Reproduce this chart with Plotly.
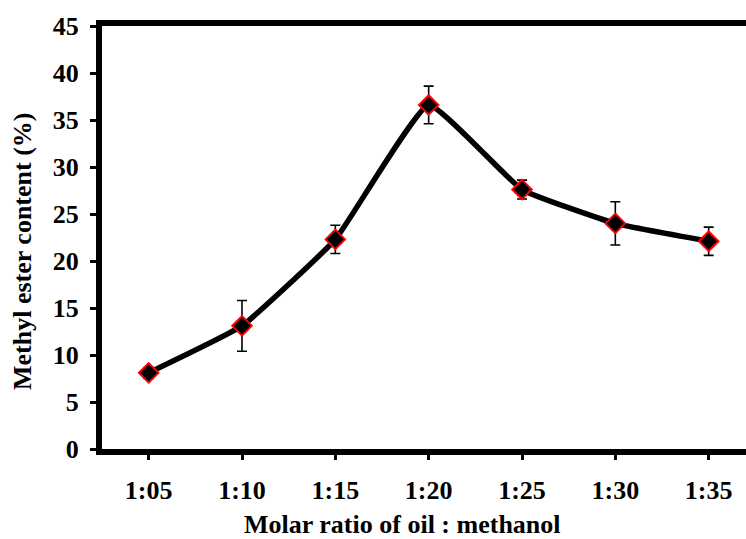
import plotly.graph_objects as go

# Molar ratio categories and measured methyl ester content
ratios = ["1:05", "1:10", "1:15", "1:20", "1:25", "1:30", "1:35"]
ester_content = [8.1, 13.1, 22.3, 36.6, 27.6, 24.0, 22.1]
ester_error = [0.6, 2.7, 1.5, 2.0, 1.0, 2.3, 1.5]
y_ticks = [0, 5, 10, 15, 20, 25, 30, 35, 40, 45]

FONT = "Liberation Serif"
FSIZE = 26

fig = go.Figure()
fig.add_trace(go.Scatter(
    x=list(range(len(ratios))),
    y=ester_content,
    mode="lines+markers",
    line=dict(color="black", width=5.5, shape="spline", smoothing=0.35),
    marker=dict(symbol="diamond", size=15, color="black",
                line=dict(color="#ff0000", width=2)),
    error_y=dict(type="data", array=ester_error, visible=True,
                 color="black", thickness=1.6, width=5),
    showlegend=False,
))

fig.update_layout(
    width=746, height=539,
    margin=dict(l=102, r=0, t=26, b=90),
    paper_bgcolor="white", plot_bgcolor="white",
    font=dict(family=FONT, size=FSIZE, color="black"),
    xaxis=dict(
        range=[-0.5, 6.4],
        tickmode="array",
        tickvals=list(range(len(ratios))),
        ticktext=["<b>%s</b>" % r for r in ratios],
        showline=True, linecolor="black", linewidth=6, mirror=True,
        ticks="outside", ticklen=5, tickwidth=3, tickcolor="black",
        ticklabelstandoff=8,
        showgrid=False, zeroline=False,
    ),
    yaxis=dict(
        range=[0, 45],
        tickmode="array",
        tickvals=y_ticks,
        ticktext=["<b>%d</b>" % v for v in y_ticks],
        showline=True, linecolor="black", linewidth=6,
        ticks="outside", ticklen=6, tickwidth=3, tickcolor="black",
        ticklabelstandoff=6,
        showgrid=False, zeroline=False,
    ),
    annotations=[
        dict(text="<b>Molar ratio of oil : methanol</b>", xref="paper", yref="paper",
             x=(402 - 102) / 644, y=-(524 - 449) / 423, xanchor="center", yanchor="middle",
             showarrow=False, borderpad=0,
             font=dict(family=FONT, size=FSIZE, color="black")),
        dict(text="<b>Methyl ester content (%)</b>", xref="paper", yref="paper",
             x=-(102 - 22) / 644, y=(449 - 252) / 423, xanchor="center", yanchor="middle",
             textangle=-90, showarrow=False, borderpad=0,
             font=dict(family=FONT, size=FSIZE, color="black")),
    ],
)

fig.write_html("out.html")
